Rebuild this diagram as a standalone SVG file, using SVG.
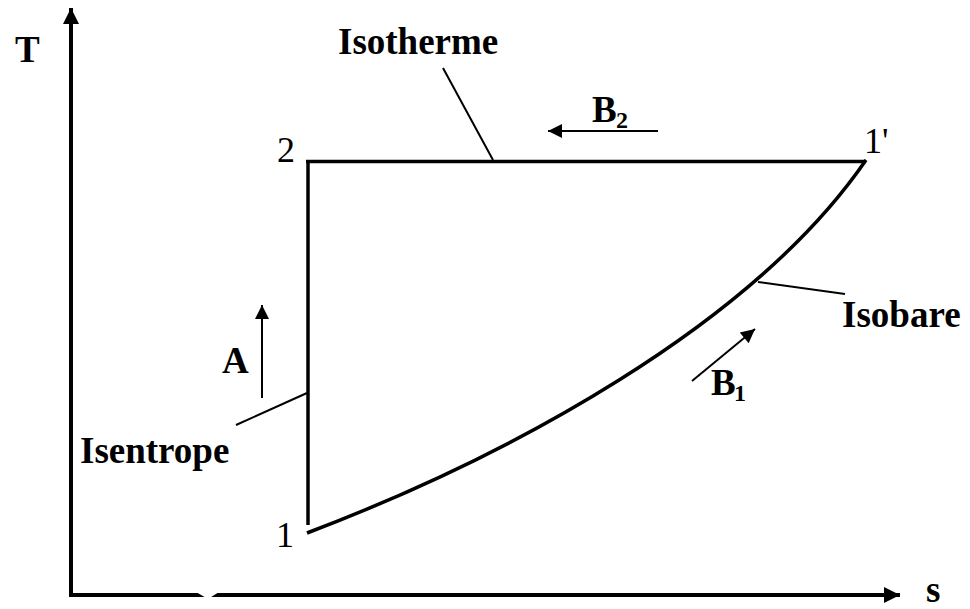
<svg xmlns="http://www.w3.org/2000/svg" width="970" height="609" viewBox="0 0 970 609">
<style>
.lbl{font-family:"Liberation Serif","Times New Roman",serif;font-weight:bold;font-size:37px;fill:#000}
.num{font-family:"Liberation Serif","Times New Roman",serif;font-size:36px;fill:#000}
.sub{font-family:"Liberation Serif","Times New Roman",serif;font-weight:bold;font-size:24px;fill:#000}
.thin{stroke:#000;stroke-width:2;fill:none}
.thick{stroke:#000;stroke-width:3.5;fill:none}
</style>
<defs>
<marker id="ah" viewBox="0 0 10 10" refX="10" refY="5" markerWidth="8" markerHeight="7" markerUnits="strokeWidth" orient="auto">
<path d="M0,0 L10,5 L0,10 z" fill="#000"/>
</marker>
<marker id="axh" viewBox="0 0 10 10" refX="10" refY="5" markerWidth="4.2" markerHeight="4" markerUnits="strokeWidth" orient="auto">
<path d="M0,0 L10,5 L0,10 z" fill="#000"/>
</marker>
</defs>
<rect width="970" height="609" fill="#fff"/>
<g id="axes">
<line x1="71" y1="597" x2="71" y2="8" stroke="#000" stroke-width="4" marker-end="url(#axh)"/>
<line x1="69" y1="595" x2="900" y2="595" stroke="#000" stroke-width="4" marker-end="url(#axh)"/>
<polygon points="196,592 219,592 208,599" fill="#fff"/>
<text class="lbl" x="15" y="62">T</text>
<text class="lbl" x="926" y="602">s</text>
</g>
<g id="connectors">
<line class="thick" x1="306" y1="161.5" x2="866" y2="161.5"/>
<line class="thick" x1="308" y1="160" x2="308" y2="525"/>
<path class="thick" d="M307,533 C507,457 752,326 866,160"/>
</g>
<g id="leaders">
<line class="thin" x1="443" y1="68" x2="493" y2="160"/>
<line class="thin" x1="758" y1="282" x2="845" y2="294"/>
<line class="thin" x1="236" y1="425" x2="307" y2="393"/>
</g>
<g id="arrowA">
<line class="thin" x1="262" y1="398" x2="262" y2="305" marker-end="url(#ah)"/>
<text class="lbl" x="222" y="373">A</text>
</g>
<g id="arrowB2">
<line class="thin" x1="658" y1="131" x2="548" y2="131" marker-end="url(#ah)"/>
<text class="lbl" x="592" y="122">B</text>
<text class="sub" x="616" y="128">2</text>
</g>
<g id="arrowB1">
<line class="thin" x1="692" y1="381" x2="755" y2="329" marker-end="url(#ah)"/>
<text class="lbl" x="711" y="395">B</text>
<text class="sub" x="734" y="401">1</text>
</g>
<g id="labels">
<text class="lbl" x="338" y="54">Isotherme</text>
<text class="lbl" x="842" y="327">Isobare</text>
<text class="lbl" x="80" y="463">Isentrope</text>
<text class="num" x="277" y="162">2</text>
<text class="num" x="276" y="547">1</text>
<text class="num" x="864" y="153">1'</text>
</g>
</svg>
